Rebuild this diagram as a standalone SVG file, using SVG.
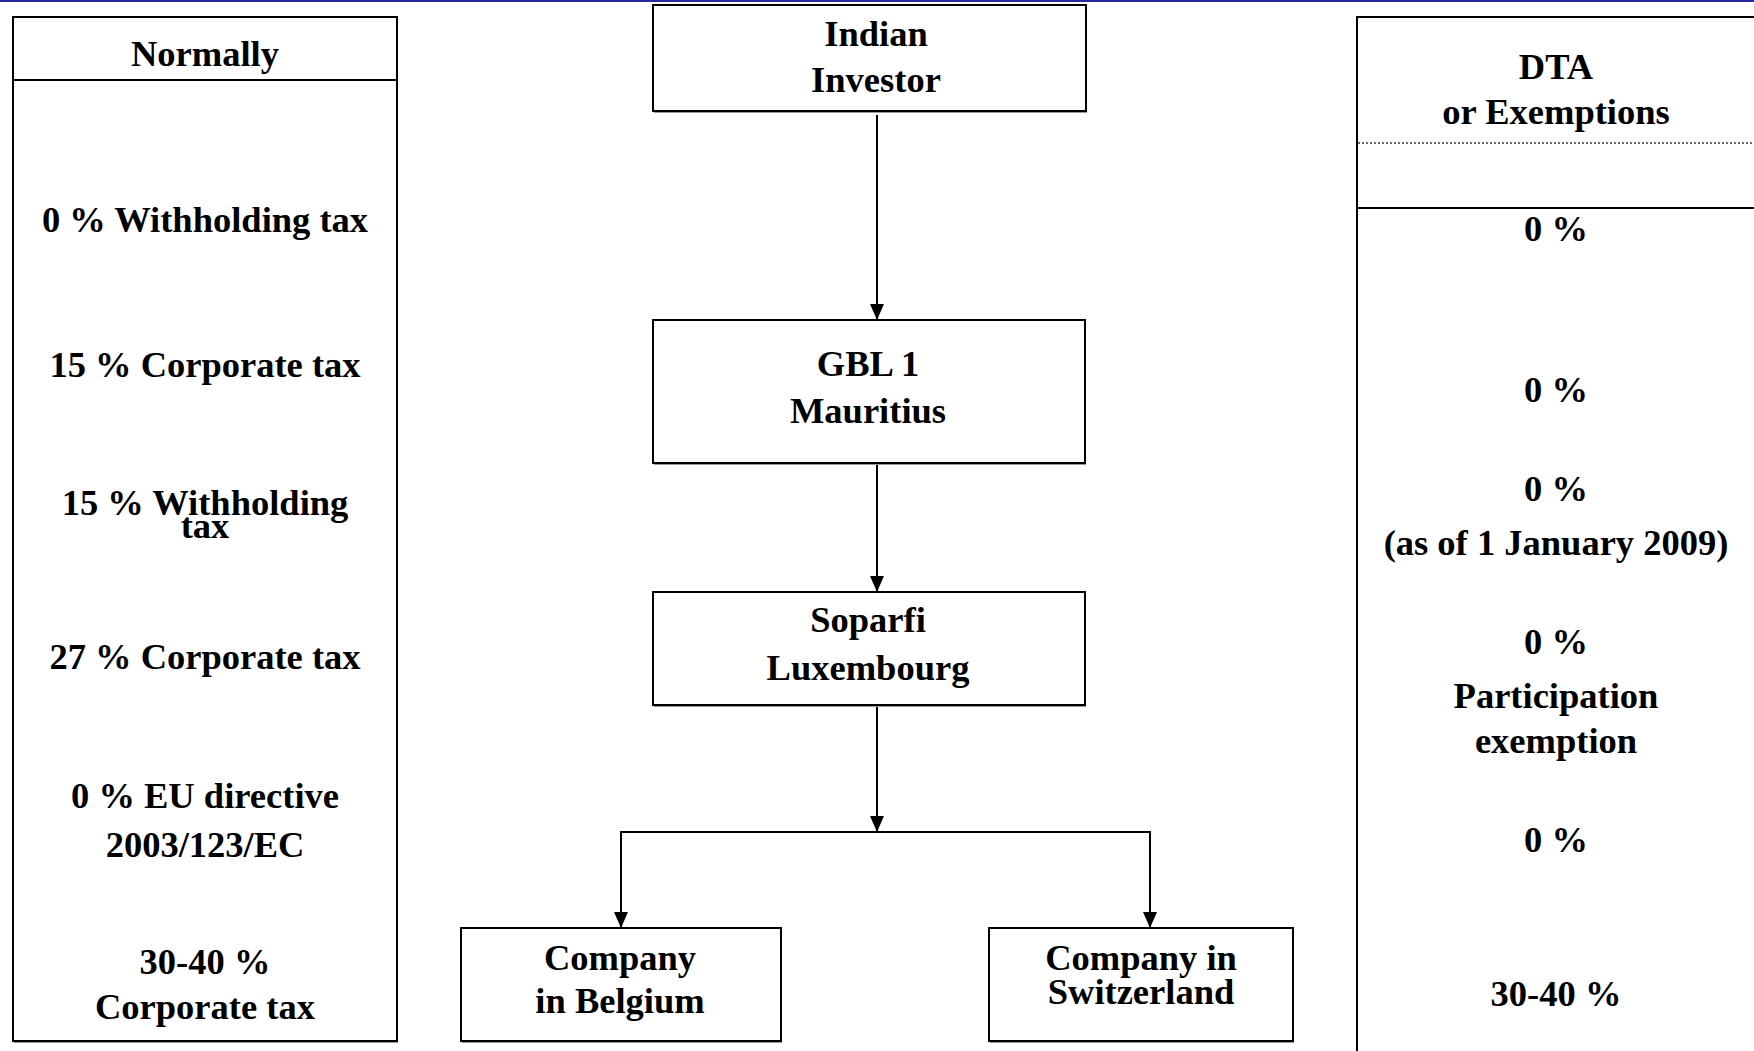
<svg xmlns="http://www.w3.org/2000/svg" width="1754" height="1051" viewBox="0 0 1754 1051">
  <style>
    .t { font-family: "Liberation Serif", "Times New Roman", serif; font-weight: bold; font-size: 36.5px; text-anchor: middle; fill: #000; }
    .box { fill: #fff; stroke: #000; stroke-width: 2; }
    .shadow { stroke: #999; stroke-width: 1; fill: none; }
    .conn { stroke: #000; stroke-width: 2; fill: none; }
  </style>
  <defs>
    <marker id="arrow" markerUnits="userSpaceOnUse" viewBox="0 0 16 14" refX="16" refY="7" markerWidth="16" markerHeight="14" orient="auto">
      <path d="M0,0 L16,7 L0,14 Z" fill="#000"/>
    </marker>
  </defs>
  <rect x="0" y="0" width="1754" height="1051" fill="#fff"/>
  <rect x="0" y="0" width="1754" height="2" fill="#2828a0"/>

  <g id="normally-column">
    <rect class="box" x="13" y="17" width="384" height="1024"/>
    <line class="shadow" x1="14" y1="1042.5" x2="398" y2="1042.5"/>
    <line x1="13" y1="80" x2="397" y2="80" stroke="#000" stroke-width="2"/>
    <text class="t" x="205" y="66">Normally</text>
    <text class="t" x="205" y="232">0 % Withholding tax</text>
    <text class="t" x="205" y="377">15 % Corporate tax</text>
    <text class="t" x="205" y="515">15 % Withholding</text>
    <text class="t" x="205" y="538">tax</text>
    <text class="t" x="205" y="669">27 % Corporate tax</text>
    <text class="t" x="205" y="808">0 % EU directive</text>
    <text class="t" x="205" y="857">2003/123/EC</text>
    <text class="t" x="205" y="974">30-40 %</text>
    <text class="t" x="205" y="1019">Corporate tax</text>
  </g>

  <g id="dta-column">
    <rect class="box" x="1357" y="17" width="420" height="1060"/>
    <line x1="1358" y1="143" x2="1754" y2="143" stroke="#333" stroke-width="1.5" stroke-dasharray="2 2"/>
    <line x1="1357" y1="208" x2="1754" y2="208" stroke="#000" stroke-width="2"/>
    <text class="t" x="1556" y="79">DTA</text>
    <text class="t" x="1556" y="124">or Exemptions</text>
    <text class="t" x="1556" y="241">0 %</text>
    <text class="t" x="1556" y="402">0 %</text>
    <text class="t" x="1556" y="501">0 %</text>
    <text class="t" x="1556" y="555">(as of 1 January 2009)</text>
    <text class="t" x="1556" y="654">0 %</text>
    <text class="t" x="1556" y="708">Participation</text>
    <text class="t" x="1556" y="753">exemption</text>
    <text class="t" x="1556" y="852">0 %</text>
    <text class="t" x="1556" y="1006">30-40 %</text>
  </g>

  <g id="indian-investor">
    <rect class="box" x="653" y="5" width="433" height="106"/>
    <line class="shadow" x1="654" y1="112.5" x2="1087" y2="112.5"/>
    <text class="t" x="876" y="46">Indian</text>
    <text class="t" x="876" y="92">Investor</text>
  </g>

  <g id="gbl1-mauritius">
    <rect class="box" x="653" y="320" width="432" height="143"/>
    <line class="shadow" x1="654" y1="464.5" x2="1086" y2="464.5"/>
    <text class="t" x="868" y="376">GBL 1</text>
    <text class="t" x="868" y="423">Mauritius</text>
  </g>

  <g id="soparfi-luxembourg">
    <rect class="box" x="653" y="592" width="432" height="113"/>
    <line class="shadow" x1="654" y1="706.5" x2="1086" y2="706.5"/>
    <text class="t" x="868" y="632">Soparfi</text>
    <text class="t" x="868" y="680">Luxembourg</text>
  </g>

  <g id="company-belgium">
    <rect class="box" x="461" y="928" width="320" height="113"/>
    <line class="shadow" x1="462" y1="1042.5" x2="782" y2="1042.5"/>
    <text class="t" x="620" y="970">Company</text>
    <text class="t" x="620" y="1013">in Belgium</text>
  </g>

  <g id="company-switzerland">
    <rect class="box" x="989" y="928" width="304" height="113"/>
    <line class="shadow" x1="990" y1="1042.5" x2="1294" y2="1042.5"/>
    <text class="t" x="1141" y="970">Company in</text>
    <text class="t" x="1141" y="1004">Switzerland</text>
  </g>

  <g id="connectors">
    <line class="conn" x1="877" y1="115" x2="877" y2="320" marker-end="url(#arrow)"/>
    <line class="conn" x1="877" y1="465" x2="877" y2="592" marker-end="url(#arrow)"/>
    <line class="conn" x1="877" y1="707" x2="877" y2="832" marker-end="url(#arrow)"/>
    <polyline class="conn" points="621,928 621,832 1150,832 1150,928"/>
    <line class="conn" x1="621" y1="840" x2="621" y2="928" marker-end="url(#arrow)"/>
    <line class="conn" x1="1150" y1="840" x2="1150" y2="928" marker-end="url(#arrow)"/>
  </g>
</svg>
